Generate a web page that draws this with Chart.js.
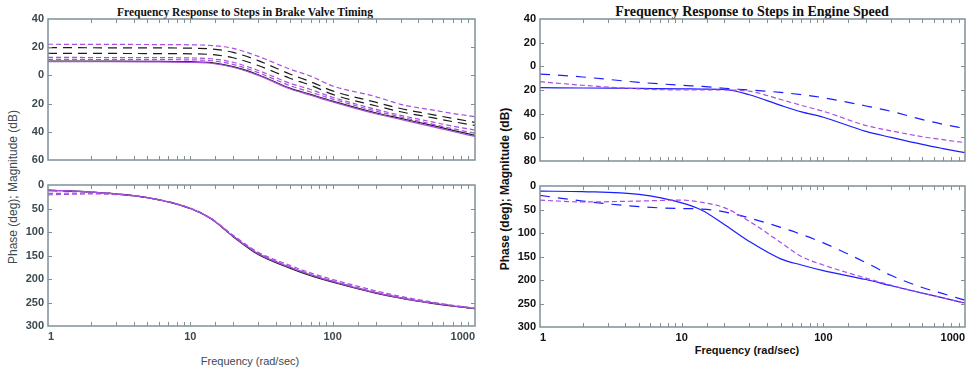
<!DOCTYPE html>
<html>
<head>
<meta charset="utf-8">
<script src="https://cdn.jsdelivr.net/npm/chart.js@4.4.0/dist/chart.umd.min.js"></script>
<style>
  body { margin: 0; background: #fff; }
  #page { position: relative; width: 969px; height: 370px; overflow: hidden; font-family: "Liberation Sans", Arial, sans-serif; }
  canvas { position: absolute; }
  .title { position: absolute; font-family: "Liberation Serif", "Times New Roman", serif; font-weight: bold; white-space: nowrap; transform: translate(-50%, -50%); color: #111; }
  .lbl { position: absolute; white-space: nowrap; font-size: 11px; transform: translate(-50%, -50%); }
  .ylbl { transform: translate(-50%, -50%) rotate(-90deg); }
</style>
</head>
<body>
<div id="page">
  <div class="title" style="left:245px; top:12px; font-size:11.5px;">Frequency Response to Steps in Brake Valve Timing</div>
  <div class="title" style="left:752px; top:12px; font-size:14px;">Frequency Response to Steps in Engine Speed</div>

  <div class="lbl ylbl" style="left:13px; top:187px; font-size:12px; color:#3b4a50;">Phase (deg); Magnitude (dB)</div>
  <div class="lbl ylbl" style="left:505px; top:189px; font-size:12px; font-weight:bold; color:#111;">Phase (deg); Magnitude (dB)</div>

  <div class="lbl" style="left:250px; top:361px; color:#3b4a50;">Frequency (rad/sec)</div>
  <div class="lbl" style="left:747px; top:350px; font-weight:bold; color:#111;">Frequency (rad/sec)</div>

  <canvas id="valveMag" width="480" height="170" style="left:0; top:0;"></canvas>
  <canvas id="valvePhase" width="480" height="200" style="left:0; top:170px;"></canvas>
  <canvas id="speedMag" width="489" height="170" style="left:480px; top:0;"></canvas>
  <canvas id="speedPhase" width="489" height="200" style="left:480px; top:170px;"></canvas>
</div>

<script>
// frequency samples (rad/sec) shared by every curve
const freqs = [1, 2, 5, 10, 14, 20, 30, 50, 70, 100, 200, 300, 500, 700, 1000];

// brake valve timing - magnitude (dB)
const valveMagBase   = [10.2, 10.1, 10.0, 9.7, 9.0, 6.2, 0.5, -9.0, -13.5, -18.2, -26.5, -30.5, -35.5, -39.0, -42.5];
const valveMagAlt    = [9.8, 9.7, 9.6, 9.3, 8.6, 5.8, 0.0, -9.5, -14.0, -18.8, -27.2, -31.2, -36.3, -39.8, -43.3];
const valveMagHigh   = [22.1, 22.0, 21.9, 21.7, 21.2, 19.2, 13.5, 4.5, -0.5, -7.5, -15.0, -20.5, -24.5, -27.0, -29.3];
const valveMagDashK1 = [19.7, 19.6, 19.5, 19.3, 18.8, 16.3, 10.5, 1.0, -4.5, -11.0, -19.0, -23.5, -27.8, -30.5, -33.3];
const valveMagDashK2 = [15.7, 15.6, 15.5, 15.3, 14.8, 12.5, 7.0, -2.0, -7.0, -13.5, -21.5, -25.8, -30.0, -32.8, -35.5];
const valveMagDashM1 = [12.8, 12.7, 12.6, 12.4, 11.8, 9.3, 3.5, -5.5, -10.0, -15.5, -24.0, -28.3, -33.0, -36.0, -38.8];
const valveMagDashM2 = [11.4, 11.3, 11.2, 11.0, 10.4, 7.8, 2.0, -7.2, -11.8, -16.8, -25.2, -29.5, -34.5, -37.8, -41.0];

// brake valve timing - phase (deg)
const valvePhaseBase   = [-11, -15, -27, -50, -72, -110, -148, -177, -193, -207, -230, -241, -252, -258, -263];
const valvePhaseAlt    = [-11, -15, -27, -50, -72, -109, -146, -175, -191, -205, -229, -240, -251, -257, -263];
const valvePhaseDashK  = [-12, -15, -27, -50, -72, -109, -146, -175, -191, -205, -229, -240, -251, -257, -263];
const valvePhaseDashM1 = [-21, -19, -27, -49, -71, -107, -143, -171, -187, -201, -225, -237, -249, -256, -262];
const valvePhaseDashM2 = [-18, -17, -27, -50, -72, -108, -145, -174, -190, -204, -228, -239, -251, -257, -262];

// engine speed - magnitude (dB)
const speedMagSolid = [-18.0, -18.3, -18.7, -19.0, -19.2, -19.5, -24.0, -33.0, -38.5, -43.0, -55.0, -60.0, -66.0, -69.5, -73.0];
const speedMagDash  = [-6.5, -9.0, -13.5, -16.0, -17.0, -18.5, -20.0, -22.0, -24.0, -26.5, -33.5, -38.0, -45.0, -49.0, -52.5];
const speedMagAlt   = [-13.0, -16.0, -19.0, -20.0, -20.0, -20.0, -21.0, -28.0, -33.0, -38.0, -50.0, -54.5, -59.5, -62.0, -64.5];

// engine speed - phase (deg)
const speedPhaseSolid = [-11, -12, -18, -36, -52, -82, -118, -155, -168, -180, -199, -212, -228, -238, -249];
const speedPhaseDash  = [-20, -32, -44, -48, -49, -55, -68, -88, -103, -121, -163, -190, -216, -229, -243];
const speedPhaseAlt   = [-30, -34, -32, -30, -35, -46, -75, -120, -150, -168, -196, -211, -228, -238, -250];

const BLACK = '#1c1c1c';
const MAGENTA = '#a84ee2';
const BLUE = '#1c1cff';
const FRAME = '#7f9096';

function series(values, color, dash) {
  return {
    data: freqs.map((f, i) => ({ x: f, y: values[i] })),
    borderColor: color,
    borderWidth: 1.2,
    borderDash: dash || [],
    pointRadius: 0,
    cubicInterpolationMode: 'monotone',
    fill: false
  };
}

// box around the plot area with inward tick marks on all four sides
const framePlugin = {
  id: 'frame',
  afterDatasetsDraw(chart) {
    const { ctx, chartArea: a, scales } = chart;
    ctx.save();
    ctx.strokeStyle = FRAME;
    ctx.lineWidth = 1.5;
    ctx.strokeRect(a.left, a.top, a.right - a.left, a.bottom - a.top);
    ctx.lineWidth = 1;
    ctx.beginPath();
    scales.x.ticks.forEach(t => {
      const px = Math.round(scales.x.getPixelForValue(t.value)) + 0.5;
      if (px <= a.left + 1 || px >= a.right - 1) return;
      ctx.moveTo(px, a.bottom); ctx.lineTo(px, a.bottom - 4);
      ctx.moveTo(px, a.top); ctx.lineTo(px, a.top + 4);
    });
    scales.y.ticks.forEach(t => {
      const py = Math.round(scales.y.getPixelForValue(t.value)) + 0.5;
      if (py <= a.top + 1 || py >= a.bottom - 1) return;
      ctx.moveTo(a.left, py); ctx.lineTo(a.left + 4, py);
      ctx.moveTo(a.right, py); ctx.lineTo(a.right - 4, py);
    });
    ctx.stroke();
    ctx.restore();
  }
};

function makeChart(id, datasets, cfg) {
  const labelFont = { family: '"Liberation Sans", Arial, sans-serif', size: 11, weight: 'bold' };
  new Chart(document.getElementById(id), {
    type: 'line',
    data: { datasets },
    options: {
      responsive: false,
      animation: false,
      events: [],
      layout: { padding: cfg.padding },
      plugins: { legend: { display: false }, tooltip: { enabled: false } },
      scales: {
        x: {
          type: 'logarithmic',
          min: 1,
          max: 1000,
          grid: { display: false, drawTicks: false },
          border: { display: false },
          ticks: {
            display: cfg.showX,
            autoSkip: false,
            maxRotation: 0,
            align: 'inner',
            padding: 4,
            color: cfg.textColor,
            font: labelFont,
            callback: v => ([1, 10, 100, 1000].includes(v) ? String(v) : '')
          },
          afterFit: s => { s.height = cfg.xHeight; s.paddingLeft = 0; s.paddingRight = 0; }
        },
        y: {
          min: cfg.yMin,
          max: cfg.yMax,
          grid: { display: false, drawTicks: false },
          border: { display: false },
          ticks: {
            stepSize: cfg.yStep,
            padding: 4,
            color: cfg.textColor,
            font: labelFont,
            callback: v => String(Math.abs(v))
          },
          afterFit: s => { s.width = cfg.yWidth; s.paddingTop = 0; s.paddingBottom = 0; }
        }
      }
    },
    plugins: [framePlugin]
  });
}

const LEFT_TEXT = '#3b4a50';
const RIGHT_TEXT = '#111';

makeChart('valveMag', [
  series(valveMagHigh, MAGENTA, [5, 3]),
  series(valveMagDashM1, MAGENTA, [5, 3]),
  series(valveMagDashM2, MAGENTA, [5, 3]),
  series(valveMagAlt, MAGENTA),
  series(valveMagDashK1, BLACK, [9, 6]),
  series(valveMagDashK2, BLACK, [9, 6]),
  series(valveMagBase, BLACK)
], { yMin: -60, yMax: 40, yStep: 20, showX: false, xHeight: 10, yWidth: 40,
     padding: { left: 8, right: 5, top: 19, bottom: 0 }, textColor: LEFT_TEXT });

makeChart('valvePhase', [
  series(valvePhaseDashM1, MAGENTA, [5, 3]),
  series(valvePhaseDashM2, MAGENTA, [5, 3]),
  series(valvePhaseAlt, MAGENTA),
  series(valvePhaseDashK, BLACK, [9, 6]),
  series(valvePhaseBase, BLACK)
], { yMin: -300, yMax: 0, yStep: 50, showX: true, xHeight: 20, yWidth: 40,
     padding: { left: 8, right: 5, top: 15, bottom: 24 }, textColor: LEFT_TEXT });

makeChart('speedMag', [
  series(speedMagAlt, MAGENTA, [5, 3]),
  series(speedMagDash, BLUE, [10, 8]),
  series(speedMagSolid, BLUE)
], { yMin: -80, yMax: 40, yStep: 20, showX: false, xHeight: 9, yWidth: 52,
     padding: { left: 8, right: 4, top: 19, bottom: 0 }, textColor: RIGHT_TEXT });

makeChart('speedPhase', [
  series(speedPhaseAlt, MAGENTA, [5, 3]),
  series(speedPhaseDash, BLUE, [10, 8]),
  series(speedPhaseSolid, BLUE)
], { yMin: -300, yMax: 0, yStep: 50, showX: true, xHeight: 20, yWidth: 52,
     padding: { left: 8, right: 4, top: 16, bottom: 23 }, textColor: RIGHT_TEXT });
</script>
</body>
</html>
